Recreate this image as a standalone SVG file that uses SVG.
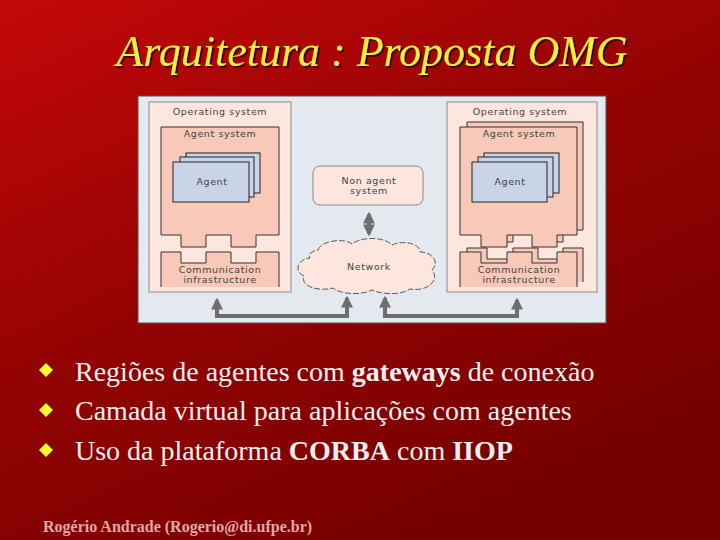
<svg xmlns="http://www.w3.org/2000/svg" width="720" height="540" viewBox="0 0 720 540">
<defs>
<linearGradient id="bg" x1="0" y1="0" x2="0.6" y2="1">
<stop offset="0" stop-color="#c40808"/>
<stop offset="0.5" stop-color="#950303"/>
<stop offset="1" stop-color="#760000"/>
</linearGradient>
<filter id="sh" x="-5%" y="-20%" width="110%" height="140%">
<feDropShadow dx="2" dy="2" stdDeviation="0.6" flood-color="#3a0000" flood-opacity="0.9"/>
</filter>
<marker id="ah" viewBox="0 0 10 10" refX="8" refY="5" markerWidth="3" markerHeight="3" orient="auto-start-reverse">
<path d="M0,0 L10,5 L0,10 Z" fill="#6e6e6e"/>
</marker>
<style>
.os{fill:#fde6dd;stroke:#8a8a8a;stroke-width:1}
.as{fill:#f8c8b8;stroke:#333;stroke-width:1}
.ag{fill:#c9d5e7;stroke:#222;stroke-width:1}
.lbl{font-family:"DejaVu Sans",sans-serif;font-size:9.5px;letter-spacing:0.6px;fill:#444;text-anchor:middle}
.conn{fill:none;stroke:#6e6e6e;stroke-width:4}
.bul{font-family:"Liberation Serif",serif;font-size:28px;fill:#f4f0f0}
.dia{fill:#ffff33}
</style>
</defs>
<rect width="720" height="540" fill="url(#bg)"/>
<text x="372" y="66" font-family="Liberation Serif,serif" font-style="italic" font-size="44" fill="#f6f044" text-anchor="middle" filter="url(#sh)">Arquitetura : Proposta OMG</text>

<rect x="138" y="96" width="468" height="227" fill="#e4e9f0" stroke="#555" stroke-width="1"/>

<g id="os-left">
<rect class="os" x="149" y="102" width="142" height="190"/>
<text class="lbl" x="220" y="115">Operating system</text>
<path class="as" d="M161,127 H279 V235 H256 V247 H231 V235 H206 V247 H181 V235 H161 Z"/>
<text class="lbl" x="220" y="137">Agent system</text>
<rect class="ag" x="186" y="153" width="74" height="40"/>
<rect class="ag" x="180" y="157" width="74" height="40"/>
<rect class="ag" x="173" y="162" width="76" height="40"/>
<text class="lbl" x="212" y="185">Agent</text>
<path class="as" d="M161,287 V252 H181 V263 H206 V252 H231 V263 H256 V252 H279 V287" fill="#f8c8b8"/>
<text class="lbl" x="220" y="273">Communication</text>
<text class="lbl" x="220" y="283">infrastructure</text>
</g>

<g id="os-right">
<rect class="os" x="447" y="102" width="150" height="190"/>
<text class="lbl" x="520" y="115">Operating system</text>
<path class="as" d="M467,122 H583 V230 H563 V242 H538 V230 H513 V242 H487 V230 H467 Z"/>
<path class="as" d="M460,127 H577 V235 H557 V247 H532 V235 H507 V247 H481 V235 H460 Z"/>
<text class="lbl" x="519" y="137">Agent system</text>
<rect class="ag" x="484" y="153" width="75" height="40"/>
<rect class="ag" x="478" y="157" width="75" height="40"/>
<rect class="ag" x="472" y="162" width="75" height="40"/>
<text class="lbl" x="510" y="185">Agent</text>
<path class="as" d="M467,282 V248 H487 V259 H513 V248 H538 V259 H563 V248 H583 V282"/>
<path class="as" d="M460,287 V252 H481 V263 H507 V252 H532 V263 H557 V252 H577 V287"/>
<text class="lbl" x="519" y="273">Communication</text>
<text class="lbl" x="519" y="283">infrastructure</text>
</g>

<g id="nonagent">
<rect x="313" y="166" width="110" height="39" rx="7" fill="#fde6dd" stroke="#888"/>
<text class="lbl" x="369" y="184">Non agent</text>
<text class="lbl" x="369" y="194">system</text>
</g>

<g id="network">
<path d="M318,250 C322,240 345,238 352,244 C362,236 385,237 392,245 C402,240 420,243 420,252 C432,252 440,262 432,270 C440,280 428,292 410,289 C400,296 380,294 372,290 C360,296 340,294 333,288 C318,292 300,286 304,276 C292,270 300,258 310,258 C308,254 312,251 318,250 Z" fill="#fde6dd" stroke="#333" stroke-width="0.8" stroke-dasharray="6,2"/>
<text class="lbl" x="369" y="270">Network</text>
</g>

<g id="connectors">
<path class="conn" d="M369,214 V234" marker-start="url(#ah)" marker-end="url(#ah)"/>
<path class="conn" d="M217,300 V316 H347 V298" marker-start="url(#ah)" marker-end="url(#ah)"/>
<path class="conn" d="M385,298 V316 H517 V300" marker-start="url(#ah)" marker-end="url(#ah)"/>
</g>

<g id="bullets">
<path class="dia" d="M46,363 L53,370 L46,377 L39,370 Z"/>
<path class="dia" d="M46,403 L53,410 L46,417 L39,410 Z"/>
<path class="dia" d="M46,443 L53,450 L46,457 L39,450 Z"/>
<text class="bul" x="75" y="381">Regiões de agentes com <tspan font-weight="bold">gateways</tspan> de conexão</text>
<text class="bul" x="75" y="420">Camada virtual para aplicações com agentes</text>
<text class="bul" x="75" y="460">Uso da plataforma <tspan font-weight="bold">CORBA</tspan> com <tspan font-weight="bold">IIOP</tspan></text>
</g>

<text x="43" y="532" font-family="Liberation Serif,serif" font-weight="bold" font-size="16" fill="#e0a8a8">Rogério Andrade (Rogerio@di.ufpe.br)</text>
</svg>
